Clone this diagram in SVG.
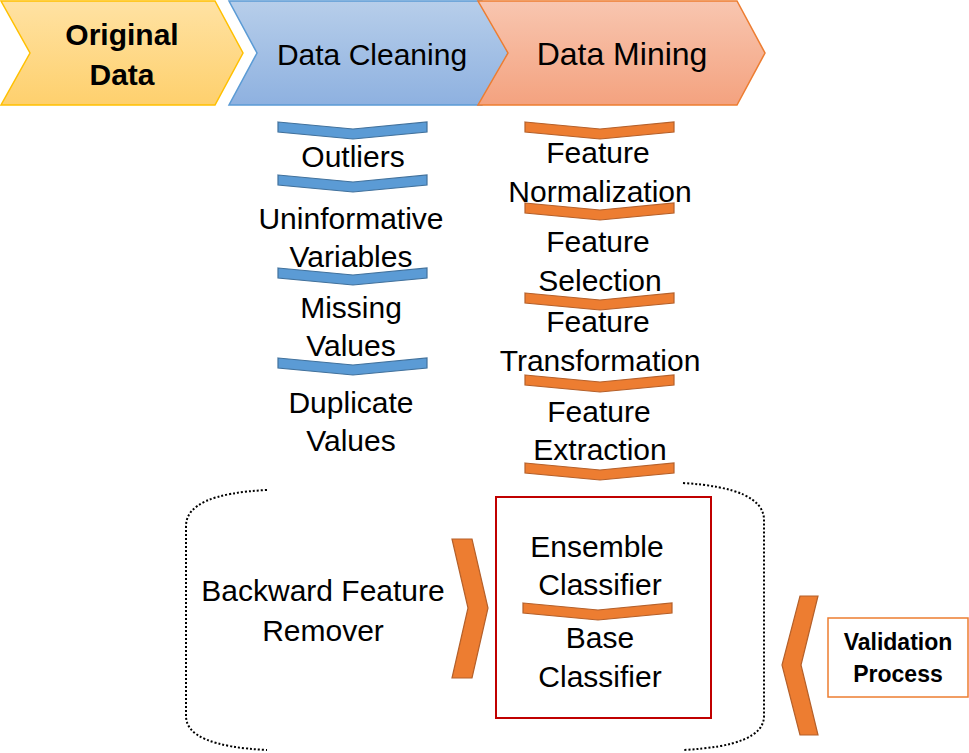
<svg xmlns="http://www.w3.org/2000/svg" width="969" height="753" viewBox="0 0 969 753">
<defs>
<linearGradient id="gY" x1="0" y1="0" x2="0" y2="1"><stop offset="0" stop-color="#FFE2A3"/><stop offset="1" stop-color="#FED06D"/></linearGradient>
<linearGradient id="gB" x1="0" y1="0" x2="0" y2="1"><stop offset="0" stop-color="#B7CEEA"/><stop offset="1" stop-color="#8EB1E0"/></linearGradient>
<linearGradient id="gO" x1="0" y1="0" x2="0" y2="1"><stop offset="0" stop-color="#F8C6B0"/><stop offset="1" stop-color="#F4A27F"/></linearGradient>
<path id="chev" d="M0,0 L75,7 L149,0 L149,10 L75,17 L0,10 Z"/>
</defs>
<style>
text{font-family:"Liberation Sans",Arial,sans-serif;fill:#000;text-anchor:middle}
.h{font-size:30px}
.b{font-size:30px}
.bold{font-weight:bold}
.bc{fill:#5B9BD5;stroke:#41719C;stroke-width:1.2}
.oc{fill:#ED7D31;stroke:#B5602A;stroke-width:1.2}
.dot{fill:none;stroke:#000;stroke-width:2;stroke-dasharray:2 2}
</style>
<rect width="969" height="753" fill="#fff"/>

<g id="original-data">
<polygon points="1,1 215,1 243,53 215,105 1,105 30,53" fill="url(#gY)" stroke="#FFC000" stroke-width="1.5"/>
<text class="h bold" x="122" y="45">Original</text>
<text class="h bold" x="122" y="85">Data</text>
</g>
<g id="data-cleaning">
<polygon points="229,1 482,1 508,53 482,105 229,105 257,53" fill="url(#gB)" stroke="#5B9BD5" stroke-width="1.5"/>
<text class="h" x="372" y="65">Data Cleaning</text>
</g>
<g id="data-mining">
<polygon points="478,1 737,1 765,53 737,105 478,105 508,53" fill="url(#gO)" stroke="#ED7D31" stroke-width="1.5"/>
<text class="h" style="font-size:32px" x="622" y="65">Data Mining</text>
</g>

<g id="connectors">
<use href="#chev" class="bc" x="278" y="122"/>
<use href="#chev" class="bc" x="278" y="175"/>
<use href="#chev" class="bc" x="278" y="268"/>
<use href="#chev" class="bc" x="278" y="358"/>
<use href="#chev" class="oc" x="525" y="122"/>
<use href="#chev" class="oc" x="525" y="203"/>
<use href="#chev" class="oc" x="525" y="293"/>
<use href="#chev" class="oc" x="525" y="375"/>
<use href="#chev" class="oc" x="525" y="463"/>
<use href="#chev" class="oc" x="523" y="603"/>
<polygon class="oc" points="452,539 472,539 488,608 472,678 452,678 468,608"/>
<polygon class="oc" points="800,596 818,596 801,665 818,735 800,735 782,665"/>
<path class="dot" d="M267,490 Q186,494 186,526 L186,716 Q186,746 267,750"/>
<path class="dot" d="M683,483 Q764,488 764,520 L764,716 Q764,746 683,750"/>
</g>

<g id="outliers"><text class="b" x="353" y="167">Outliers</text></g>
<g id="uninformative-variables"><text class="b" x="351" y="229">Uninformative</text><text class="b" x="351" y="267">Variables</text></g>
<g id="missing-values"><text class="b" x="351" y="318">Missing</text><text class="b" x="351" y="356">Values</text></g>
<g id="duplicate-values"><text class="b" x="351" y="413">Duplicate</text><text class="b" x="351" y="451">Values</text></g>

<g id="feature-normalization"><text class="b" x="598" y="163">Feature</text><text class="b" x="600" y="202">Normalization</text></g>
<g id="feature-selection"><text class="b" x="598" y="252">Feature</text><text class="b" x="600" y="291">Selection</text></g>
<g id="feature-transformation"><text class="b" x="598" y="332">Feature</text><text class="b" x="600" y="371">Transformation</text></g>
<g id="feature-extraction"><text class="b" x="599" y="422">Feature</text><text class="b" x="600" y="460">Extraction</text></g>

<g id="classifier-box">
<rect x="496" y="497" width="215" height="221" fill="none" stroke="#C00000" stroke-width="2"/>
<text class="b" x="597" y="557">Ensemble</text>
<text class="b" x="600" y="595">Classifier</text>
<text class="b" x="600" y="648">Base</text>
<text class="b" x="600" y="687">Classifier</text>
</g>

<g id="backward-feature-remover">
<text class="b" x="323" y="601">Backward Feature</text>
<text class="b" x="323" y="641">Remover</text>
</g>

<g id="validation-process">
<rect x="828" y="618" width="140" height="79" fill="#fff" stroke="#ED7D31" stroke-width="1.5"/>
<text class="bold" style="font-size:23px" x="898" y="650">Validation</text>
<text class="bold" style="font-size:23px" x="898" y="682">Process</text>
</g>
</svg>
